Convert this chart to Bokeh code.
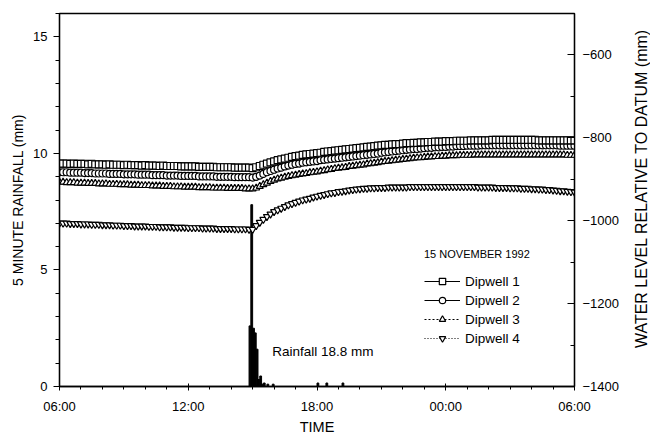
import numpy as np
from bokeh.plotting import figure
from bokeh.layouts import row
from bokeh.models import Range1d, LinearAxis, FixedTicker, Legend, LegendItem, Label, Title
from bokeh.embed import file_html
from bokeh.resources import INLINE

FONT = "Liberation Sans"

# ---- data -------------------------------------------------------------
x_ticks = [0, 6, 12, 18, 24]
x_tick_labels = ["06:00", "12:00", "18:00", "00:00", "06:00"]
left_ticks = [0, 5, 10, 15]
right_ticks = [-1400, -1200, -1000, -800, -600]

# 5-minute rainfall (mm), bar start times
rain_times = ["14:50", "14:55", "15:00", "15:05", "15:10", "15:15", "15:20",
              "15:25", "15:30", "15:40", "15:55", "18:00", "18:25", "19:10"]
rain_mm = [2.6, 7.8, 2.5, 2.3, 1.6, 0.3, 0.45, 0.1, 0.15, 0.1, 0.1, 0.15, 0.15, 0.15]

# Water level (mm), every 10 minutes from 06:00 to 06:00 next day
dipwell1 = [-862, -862, -862, -863, -862, -863, -863, -863, -864, -863, -864, -864,
            -864, -865, -864, -865, -865, -865, -866, -865, -866, -866, -866, -867,
            -866, -867, -867, -867, -868, -867, -868, -868, -868, -868, -869, -869,
            -869, -869, -869, -870, -870, -870, -870, -870, -871, -871, -871, -871,
            -871, -872, -872, -872, -872, -872, -873,
            -871, -868, -865, -862, -859,
            -857, -854, -852, -850, -848, -846, -844, -843, -841, -840, -839, -838,
            -837, -836, -834, -833, -832, -831, -830, -829, -828, -827, -826, -825,
            -824, -823, -822, -821, -820, -819, -818, -817, -817, -816, -815, -815,
            -814, -813, -813, -812, -812, -811, -811, -810, -810, -809, -809, -809,
            -808, -808, -808, -807, -807, -807, -807, -806, -806, -806, -806, -806,
            -806, -805, -805, -805, -805, -805, -805, -805, -805, -805, -805, -805,
            -805, -805, -806, -806, -806, -806, -806, -806, -806, -806, -806, -806,
            -806]
dipwell2 = [-883, -883, -883, -884, -884, -884, -884, -885, -885, -885, -886, -886,
            -886, -886, -887, -887, -887, -887, -888, -888, -888, -888, -889, -889,
            -889, -889, -890, -890, -890, -890, -891, -891, -891, -891, -892, -892,
            -892, -892, -892, -893, -893, -893, -893, -893, -894, -894, -894, -894,
            -894, -895, -895, -895, -895, -895, -896,
            -894, -891, -887, -883, -880,
            -877, -874, -872, -869, -867, -865, -863, -862, -860, -859, -858, -857,
            -856, -854, -853, -852, -851, -850, -849, -848, -847, -846, -845, -844,
            -843, -842, -841, -840, -839, -838, -836, -835, -834, -833, -832, -831,
            -830, -829, -828, -827, -827, -826, -825, -824, -824, -823, -823, -822,
            -822, -821, -821, -820, -820, -820, -819, -819, -819, -819, -818, -818,
            -818, -818, -818, -818, -818, -818, -818, -818, -818, -818, -818, -818,
            -818, -818, -818, -818, -818, -818, -818, -818, -819, -819, -819, -819,
            -819]
dipwell3 = [-907, -907, -908, -908, -908, -909, -909, -909, -910, -910, -910, -911,
            -911, -911, -912, -912, -912, -913, -913, -913, -914, -914, -914, -915,
            -915, -915, -916, -916, -916, -917, -917, -917, -918, -918, -918, -919,
            -919, -919, -919, -920, -920, -920, -920, -921, -921, -921, -921, -922,
            -922, -922, -922, -922, -923, -923, -923,
            -921, -917, -913, -909, -905,
            -902, -899, -897, -895, -893, -891, -890, -888, -887, -886, -884, -883,
            -882, -880, -879, -877, -876, -874, -873, -872, -871, -869, -868, -867,
            -866, -865, -863, -862, -861, -860, -858, -857, -856, -855, -854, -853,
            -852, -851, -850, -849, -848, -848, -847, -846, -846, -845, -845, -844,
            -844, -843, -843, -843, -842, -842, -842, -842, -841, -841, -841, -841,
            -841, -841, -841, -841, -841, -841, -841, -841, -841, -841, -841, -841,
            -841, -841, -841, -841, -841, -841, -841, -841, -841, -841, -842, -842,
            -842]
dipwell4 = [-1006, -1006, -1006, -1007, -1007, -1007, -1008, -1008, -1008, -1009, -1009, -1009,
            -1010, -1010, -1010, -1011, -1011, -1011, -1012, -1012, -1012, -1013, -1013, -1013,
            -1013, -1014, -1014, -1014, -1015, -1015, -1015, -1015, -1016, -1016, -1016, -1016,
            -1017, -1017, -1017, -1017, -1018, -1018, -1018, -1018, -1019, -1019, -1019, -1019,
            -1019, -1020, -1020, -1020, -1020, -1021, -1021,
            -1012, -1004, -997, -990, -984,
            -978, -974, -970, -966, -962, -959, -956, -953, -950, -948, -946, -943,
            -941, -939, -937, -935, -933, -932, -930, -929, -928, -926, -925, -924,
            -923, -922, -922, -921, -921, -920, -920, -920, -919, -919, -919, -919,
            -919, -919, -918, -918, -918, -918, -918, -918, -918, -918, -918, -918,
            -918, -918, -918, -918, -918, -918, -918, -918, -918, -919, -919, -919,
            -919, -919, -920, -920, -920, -920, -921, -921, -921, -922, -922, -922,
            -923, -923, -924, -924, -925, -925, -926, -927, -928, -928, -929, -930,
            -931]

series_names = ["Dipwell 1", "Dipwell 2", "Dipwell 3", "Dipwell 4"]
right_label = "WATER LEVEL RELATIVE TO DATUM (mm)"


def hours_since_six(t):
    h, m = (int(s) for s in t.split(":"))
    return ((h * 60 + m - 360) % 1440) / 60.0


times = np.arange(len(dipwell1)) / 6.0
rain_x = [hours_since_six(t) + 2.5 / 60 for t in rain_times]

# ---- figure -----------------------------------------------------------
p = figure(frame_width=515, frame_height=373, x_range=Range1d(0, 24), y_range=Range1d(0, 16),
           output_backend="svg", toolbar_location=None,
           min_border_left=59, min_border_right=56, min_border_top=13, min_border_bottom=48)
p.xgrid.visible = False
p.ygrid.visible = False
p.outline_line_color = "black"
p.outline_line_width = 1.3
p.background_fill_color = "white"

p.extra_y_ranges = {"wl": Range1d(-1400, -500)}

# rainfall bars
p.vbar(x=rain_x, width=5 / 60, top=rain_mm, bottom=0, fill_color="black",
       line_color="black", line_width=1)

# dipwells
styles = [("square", None), ("circle", None), ("triangle", "2 2"), ("inverted_triangle", "1 2")]
data = [dipwell1, dipwell2, dipwell3, dipwell4]
items = []
rends = {}
for i in [3, 2, 1, 0]:
    mk, dash = styles[i]
    kw = {}
    if dash:
        kw["line_dash"] = dash
    ln = p.line(times, data[i], y_range_name="wl", line_color="black", line_width=1, **kw)
    sc = p.scatter(times, data[i], y_range_name="wl", marker=mk, size=7,
                   fill_color="white", line_color="black", line_width=1.2)
    rends[i] = (ln, sc)
for i in range(4):
    items.append(LegendItem(label=series_names[i], renderers=list(rends[i])))

# axes
ax = p.xaxis[0]
ax.ticker = FixedTicker(ticks=x_ticks, minor_ticks=list(range(0, 25)))
ax.major_label_overrides = {t: l for t, l in zip(x_ticks, x_tick_labels)}
ax.axis_label = "TIME"

ay = p.yaxis[0]
ay.ticker = FixedTicker(ticks=left_ticks, minor_ticks=list(range(0, 17)))
ay.axis_label = "5 MINUTE RAINFALL (mm)"

ar = LinearAxis(y_range_name="wl",
                ticker=FixedTicker(ticks=right_ticks, minor_ticks=list(range(-1400, -499, 100))))
p.add_layout(ar, "right")

for a in [ax, ay, ar]:
    a.axis_line_color = "black"
    a.axis_line_width = 1.3
    a.major_tick_line_color = "black"
    a.minor_tick_line_color = "black"
    a.major_label_text_font = FONT
    a.major_label_text_font_size = "13px"
    a.major_label_text_color = "black"
    a.axis_label_text_font = FONT
    a.axis_label_text_font_style = "normal"
    a.axis_label_text_color = "black"

ax.axis_label_text_font_size = "14.5px"
ay.axis_label_text_font_size = "14px"

ax.major_tick_out = 4
ax.major_tick_in = 3
ax.minor_tick_out = 3
ax.minor_tick_in = 0
ax.major_label_standoff = 8
ax.axis_label_standoff = 2

ay.major_tick_out = 6
ay.major_tick_in = 0
ay.minor_tick_out = 4
ay.minor_tick_in = 0
ay.major_label_standoff = 6
ay.axis_label_standoff = 4

ar.major_tick_out = 0
ar.major_tick_in = 7
ar.minor_tick_out = 0
ar.minor_tick_in = 4
ar.major_label_standoff = 8

legend = Legend(items=items, title="15 NOVEMBER 1992", location=(365, 40),
                glyph_width=36, glyph_height=16, label_height=16, spacing=3,
                padding=2, margin=0, border_line_color=None, background_fill_alpha=0,
                label_text_font=FONT, label_text_font_size="13.5px", label_standoff=5,
                label_text_color="black",
                title_text_font=FONT, title_text_font_size="11px", title_text_font_style="normal",
                title_text_color="black", title_standoff=13)
p.add_layout(legend)

p.add_layout(Label(x=hours_since_six("15:55"), y=1.5, text="Rainfall 18.8 mm",
                   text_font=FONT, text_font_size="13.5px", text_baseline="middle",
                   text_color="black"))

# strip holding the right-hand axis title (reads bottom to top)
p2 = figure(width=20, height=436, output_backend="svg", toolbar_location=None,
            x_axis_location=None, y_axis_location=None,
            min_border_left=0, min_border_right=0, min_border_top=0, min_border_bottom=73)
p2.outline_line_color = None
p2.xgrid.visible = False
p2.ygrid.visible = False
p2.add_layout(Title(text=right_label, align="center", text_font=FONT, text_font_size="16px",
                    text_font_style="normal", text_color="black", standoff=0, offset=0), "left")

open("out.html", "w").write(file_html(row(p, p2), INLINE))
